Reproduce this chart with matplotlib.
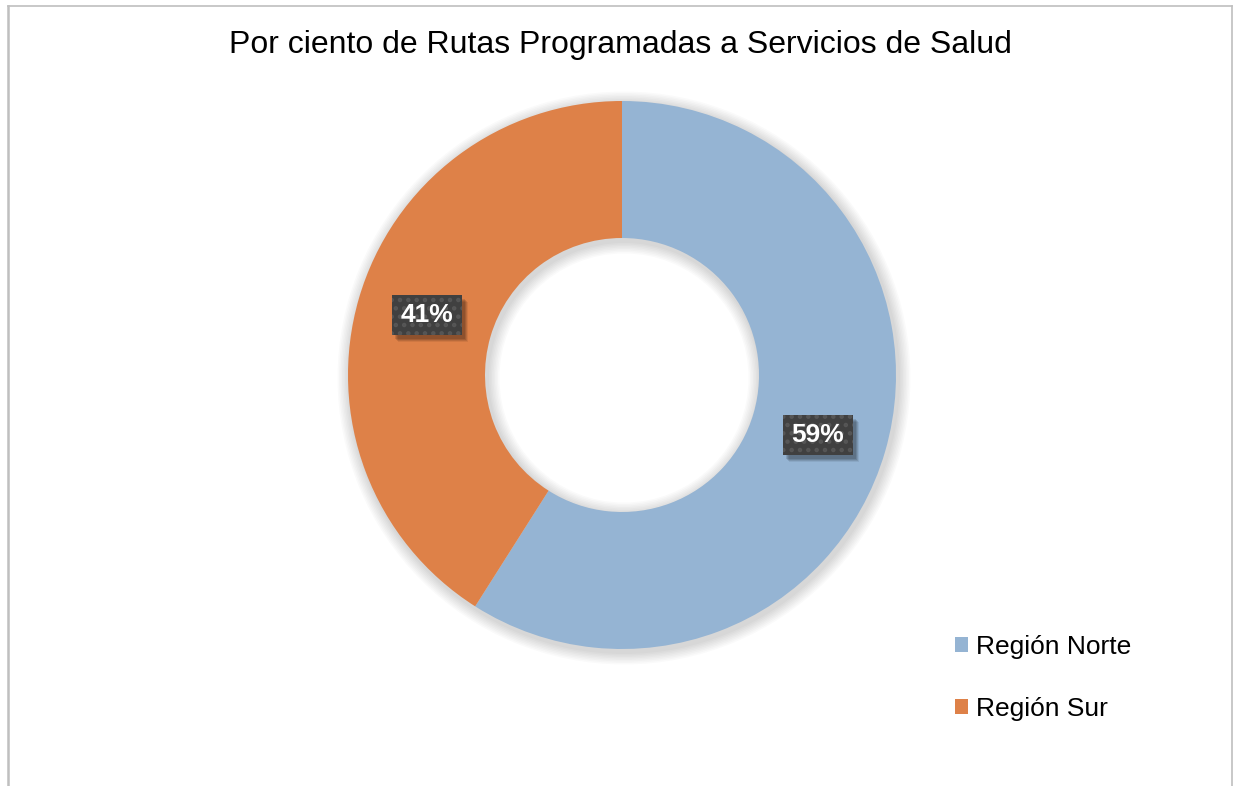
import matplotlib
matplotlib.use("Agg")
import matplotlib.pyplot as plt
from matplotlib.patches import Patch, Wedge, Rectangle
from matplotlib.lines import Line2D

plt.rcParams['font.family'] = ['Liberation Sans', 'DejaVu Sans']
plt.rcParams['hatch.linewidth'] = 2.0

# datos
regiones = ['Región Norte', 'Región Sur']
porcentajes = [59, 41]
colores = ['#95B4D3', '#DE8148']
titulo = 'Por ciento de Rutas Programadas a Servicios de Salud'

W, H = 1235, 786
fig = plt.figure(figsize=(W / 100, H / 100), dpi=100)

# marco gris alrededor del grafico
fig.add_artist(Line2D([8 / W, 8 / W], [0, 1 - 6 / H], color='#BFBFBF', lw=1.8,
                      transform=fig.transFigure))
fig.add_artist(Line2D([8 / W, 1232 / W], [1 - 6 / H, 1 - 6 / H], color='#BFBFBF', lw=1.2,
                      transform=fig.transFigure))
fig.add_artist(Line2D([1232 / W, 1232 / W], [0, 1 - 6 / H], color='#BFBFBF', lw=1.2,
                      transform=fig.transFigure))

fig.text(620 / W, 1 - 45 / H, titulo, ha='center', va='center', fontsize=23, color='#000000')

# ejes cuadrados centrados en la dona (1 unidad = 1 pixel)
cx, cy, lado = 622, 375, 600
ax = fig.add_axes([(cx - lado / 2) / W, 1 - (cy + lado / 2) / H, lado / W, lado / H])

r_ext, r_int = 274, 137

# sombra suave
for k in range(8):
    ax.add_patch(Wedge((2, -3), r_ext + 2 + k * 1.5, 0, 360, width=r_ext - r_int + 4 + k * 3,
                       facecolor='#000000', alpha=0.018, lw=0))

wedges, _ = ax.pie(porcentajes, colors=colores, startangle=90, counterclock=False,
                   radius=r_ext, wedgeprops=dict(width=r_ext - r_int, linewidth=0))

ax.set_xlim(-lado / 2, lado / 2)
ax.set_ylim(-lado / 2, lado / 2)
ax.set_aspect('equal')
ax.axis('off')

# etiquetas de porcentaje con caja punteada y sombra
bw, bh = 70, 40
posiciones = [(818 - cx, cy - 435), (427 - cx, cy - 314.5)]
for p, (x, y) in zip(porcentajes, posiciones):
    for dx, dy, a in [(3, -4, 0.12), (4, -5, 0.12), (5, -6, 0.10), (6, -7, 0.07)]:
        ax.add_patch(Rectangle((x - bw / 2 + dx, y - bh / 2 + dy), bw, bh,
                               facecolor='#000000', edgecolor='none', alpha=a))
    ax.add_patch(Rectangle((x - bw / 2, y - bh / 2), bw, bh, facecolor='#404040',
                           edgecolor='#565656', lw=0, hatch='..'))
    ax.text(x, y, f'{p}%', ha='center', va='center', fontsize=19, fontweight='bold',
            color='white')

handles = [Patch(facecolor=c, edgecolor='none') for c in colores]
fig.legend(handles, regiones, loc='center left', bbox_to_anchor=(931 / W, 1 - 678 / H),
           frameon=False, fontsize=19, handlelength=0.5, handleheight=0.5,
           handletextpad=0.3, labelspacing=1.45)

fig.savefig('out.png', dpi=100)
